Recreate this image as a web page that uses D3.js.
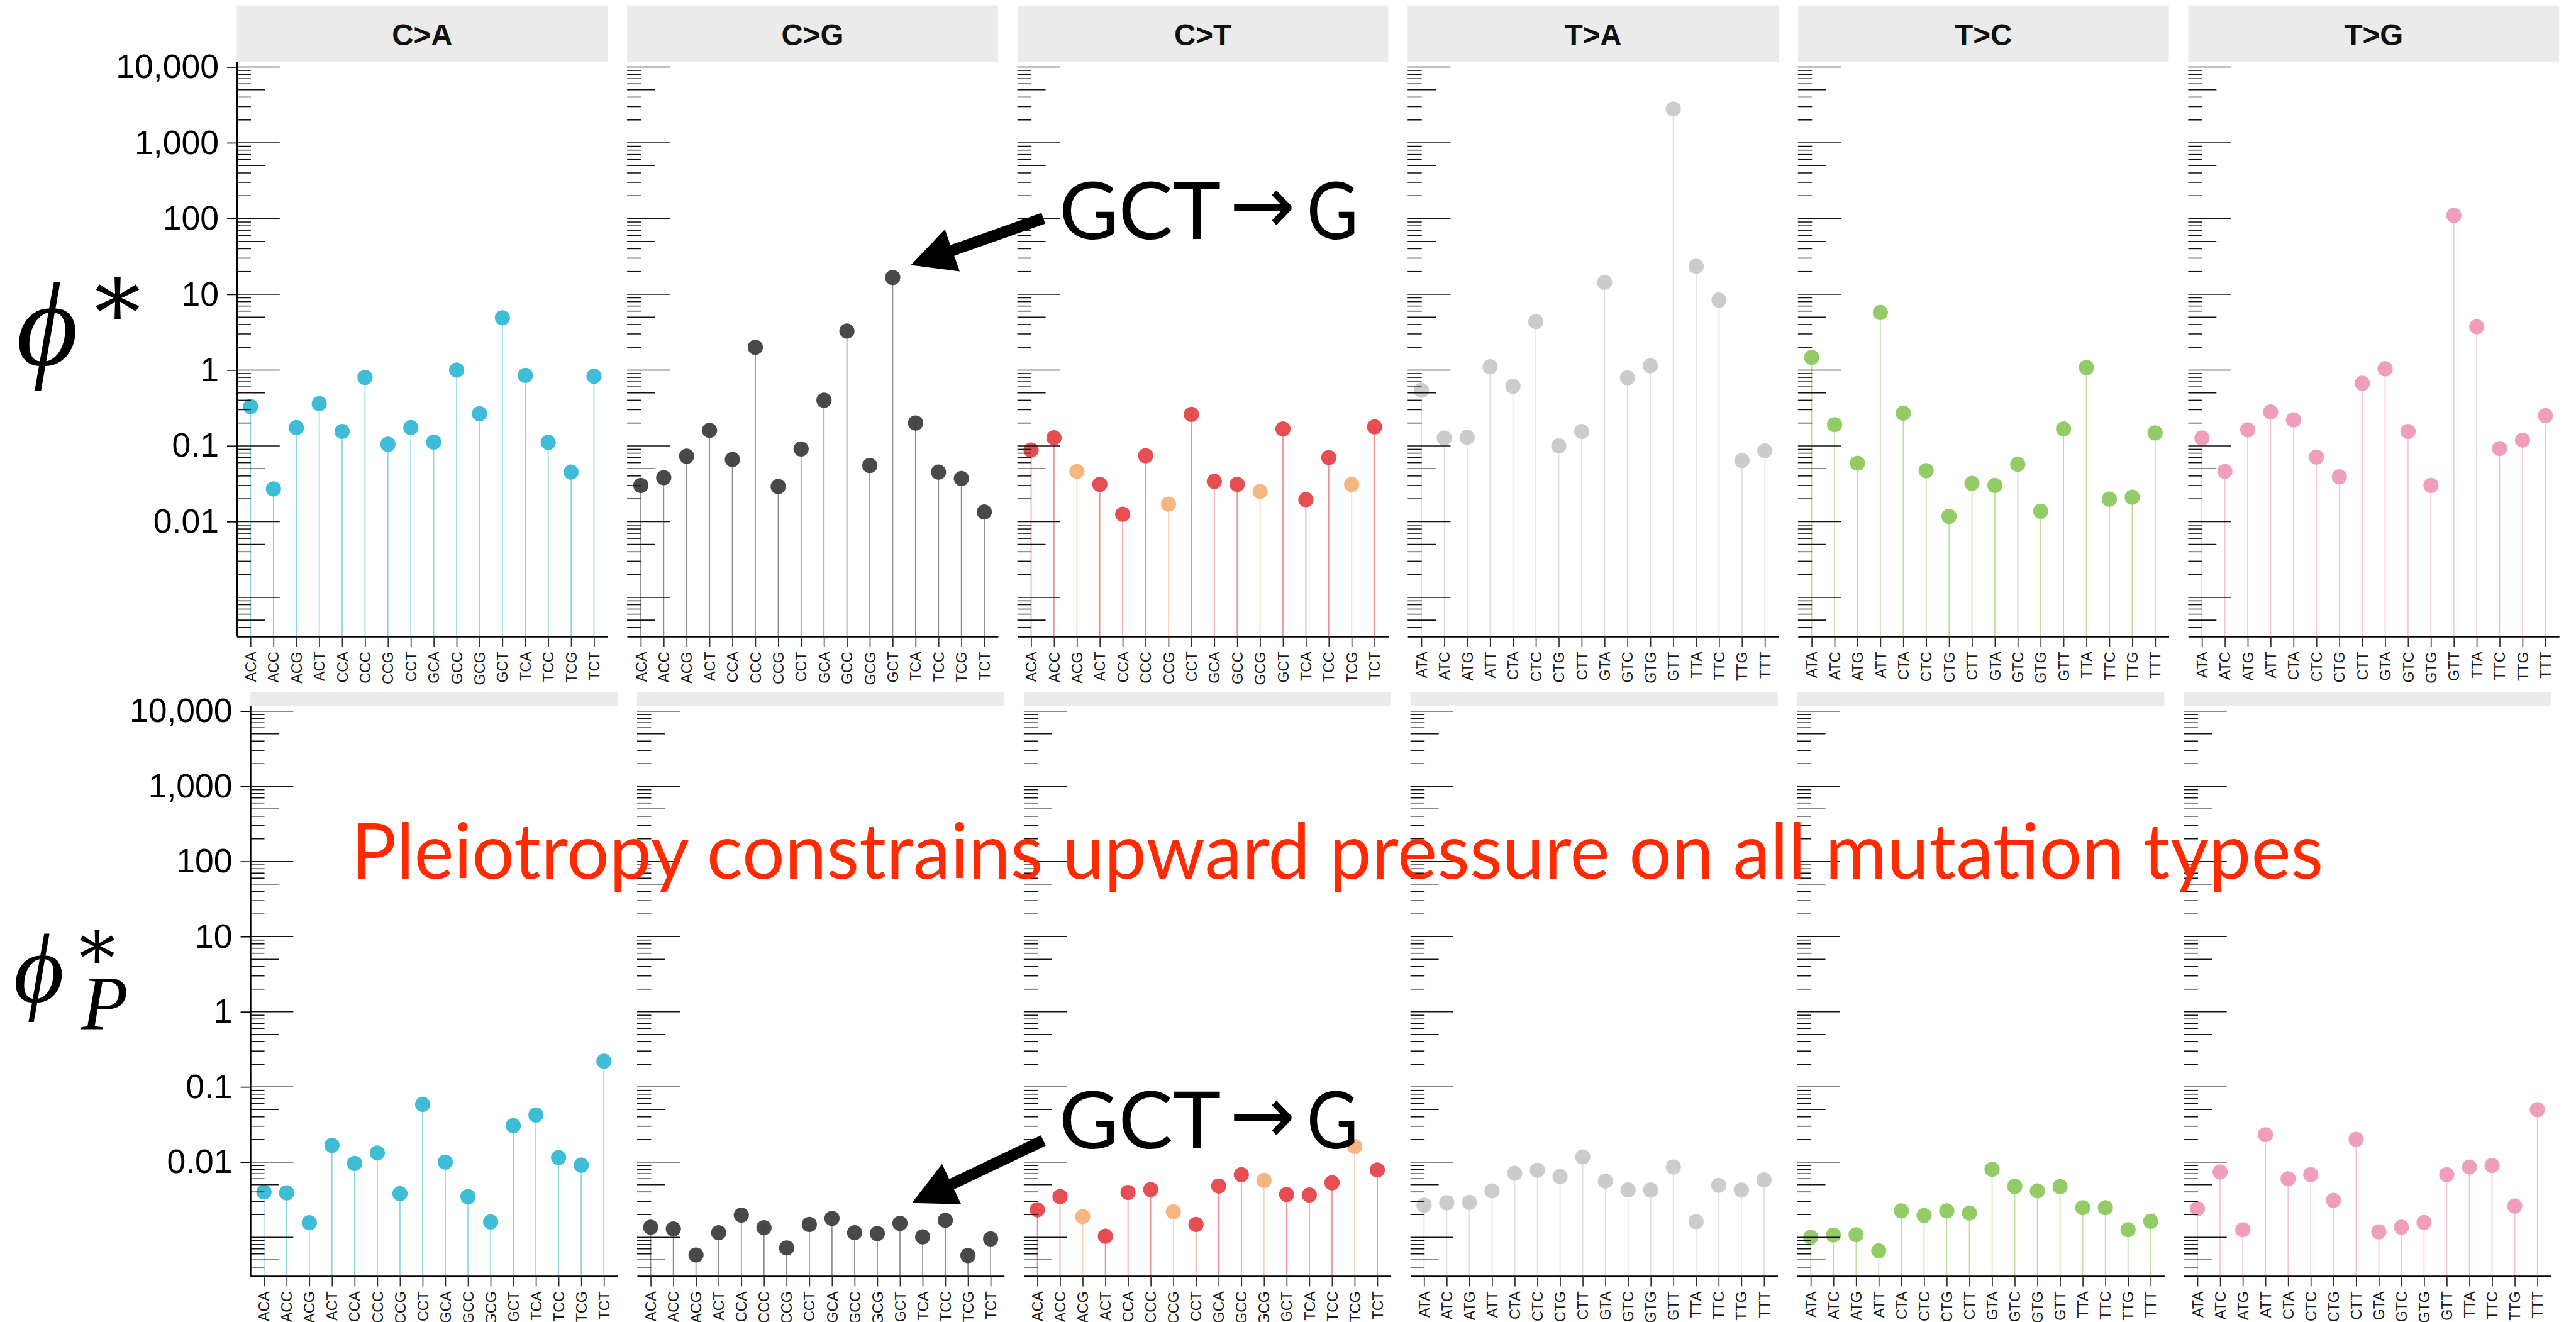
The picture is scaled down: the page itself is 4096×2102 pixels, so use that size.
<!DOCTYPE html>
<html>
<head>
<meta charset="utf-8">
<script src="https://cdn.jsdelivr.net/npm/d3@7"></script>
<style>
  html, body { margin: 0; padding: 0; background: #fff; }
  svg { display: block; }
</style>
</head>
<body>
<svg id="chart"></svg>
<script>
const mutationTypes = ["C>A", "C>G", "C>T", "T>A", "T>C", "T>G"];
const contextsC = ["ACA", "ACC", "ACG", "ACT", "CCA", "CCC", "CCG", "CCT", "GCA", "GCC", "GCG", "GCT", "TCA", "TCC", "TCG", "TCT"];
const contextsT = ["ATA", "ATC", "ATG", "ATT", "CTA", "CTC", "CTG", "CTT", "GTA", "GTC", "GTG", "GTT", "TTA", "TTC", "TTG", "TTT"];
const cpgContexts = ["ACG", "CCG", "GCG", "TCG"];
const yTickValues = [0.01, 0.1, 1, 10, 100, 1000, 10000];

// phi* (top row)
const phiStarCA = [0.33, 0.027, 0.174, 0.36, 0.155, 0.80, 0.105, 0.174, 0.112, 1.0, 0.265, 4.9, 0.85, 0.111, 0.045, 0.83];
const phiStarCG = [0.030, 0.038, 0.073, 0.16, 0.066, 2.0, 0.029, 0.091, 0.40, 3.27, 0.055, 16.7, 0.20, 0.045, 0.037, 0.0134];
const phiStarCT = [0.088, 0.128, 0.046, 0.031, 0.0125, 0.074, 0.017, 0.26, 0.034, 0.031, 0.025, 0.167, 0.0195, 0.070, 0.031, 0.178];
const phiStarTA = [0.54, 0.127, 0.13, 1.11, 0.61, 4.37, 0.10, 0.155, 14.4, 0.79, 1.14, 2790, 23.5, 8.4, 0.064, 0.086];
const phiStarTC = [1.47, 0.19, 0.059, 5.75, 0.27, 0.047, 0.0117, 0.032, 0.030, 0.057, 0.0137, 0.167, 1.08, 0.0198, 0.021, 0.148];
const phiStarTG = [0.127, 0.046, 0.163, 0.28, 0.22, 0.071, 0.039, 0.67, 1.04, 0.155, 0.030, 110, 3.73, 0.092, 0.119, 0.25];

// phi*_P (bottom row)
const phiPCA = [0.0040, 0.0039, 0.00156, 0.0167, 0.0096, 0.0132, 0.0038, 0.0586, 0.0100, 0.00347, 0.0016, 0.0305, 0.0423, 0.0115, 0.0091, 0.22];
const phiPCG = [0.00136, 0.00129, 0.00058, 0.00115, 0.00197, 0.00134, 0.00072, 0.00148, 0.00178, 0.00115, 0.00112, 0.00153, 0.00101, 0.00168, 0.00057, 0.00095];
const phiPCT = [0.00232, 0.00347, 0.00188, 0.00103, 0.00394, 0.0043, 0.00218, 0.00148, 0.0048, 0.0068, 0.0057, 0.0037, 0.00365, 0.0053, 0.0161, 0.00785];
const phiPTA = [0.00267, 0.00288, 0.00291, 0.00414, 0.0071, 0.0078, 0.0064, 0.0117, 0.0056, 0.00425, 0.00425, 0.0086, 0.00161, 0.0049, 0.00425, 0.0058];
const phiPTC = [0.0010, 0.00107, 0.00108, 0.00066, 0.00224, 0.00195, 0.00224, 0.0021, 0.0080, 0.00475, 0.00414, 0.0047, 0.00247, 0.00247, 0.00126, 0.00163];
const phiPTG = [0.0024, 0.0074, 0.00126, 0.0231, 0.0060, 0.0068, 0.0031, 0.0201, 0.00118, 0.00136, 0.00157, 0.0068, 0.0086, 0.0090, 0.0026, 0.0498];

const typeColors = ["#35b8d4", "#3f3f3f", "#e5444b", "#c9c9c9", "#8dc95e", "#ee9ab6"];
const cpgColor = "#f4b27b";

const sansFont = "'Liberation Sans', Arial, Helvetica, sans-serif";
const noteFont = "Lato, 'Open Sans', 'DejaVu Sans', sans-serif";
const mathFont = "'DejaVu Serif', 'Liberation Serif', serif";
const phiFont = "'Liberation Serif', 'DejaVu Serif', serif";

const W = 4743, H = 2434;
const svg = d3.select("#chart")
  .attr("width", 4096)
  .attr("height", 2102)
  .attr("viewBox", [0, 0, W, H])
  .style("font-family", sansFont);

const rows = [
  { series: [phiStarCA, phiStarCG, phiStarCT, phiStarTA, phiStarTC, phiStarTG],
    stripY: 10, stripH: 104, top: 114, bottom: 1172, left: 436, step: 718.6, width: 683, stripText: true },
  { series: [phiPCA, phiPCG, phiPCT, phiPTA, phiPTC, phiPTG],
    stripY: 1274, stripH: 26, top: 1300, bottom: 2349.5, left: 461, step: 712, width: 676, stripText: false }
];

const yDomain = [Math.pow(10, -3.517), Math.pow(10, 4.067)];

// log tick positions (1..9 x 10^k), drawn like annotation_logticks
const logTicks = [];
for (let k = -4; k <= 4; k++) {
  for (let m = 1; m <= 9; m++) {
    const v = m * Math.pow(10, k);
    if (v >= yDomain[0] && v <= yDomain[1]) logTicks.push({ v, len: m === 1 ? 79 : m === 5 ? 52 : 26 });
  }
}

rows.forEach(row => {
  const y = d3.scaleLog().domain(yDomain).range([row.bottom, row.top]);

  mutationTypes.forEach((type, i) => {
    const contexts = type[0] === "C" ? contextsC : contextsT;
    const x = d3.scalePoint().domain(contexts).range([0, row.width]).padding(0.6);
    const data = contexts.map((c, j) => ({ context: c, value: row.series[i][j] }));
    const color = d => type === "C>T" && cpgContexts.includes(d.context) ? cpgColor : typeColors[i];

    const g = svg.append("g").attr("transform", `translate(${row.left + i * row.step},0)`);

    g.append("rect")
      .attr("x", 0).attr("y", row.stripY)
      .attr("width", row.width).attr("height", row.stripH)
      .attr("fill", "#ebebeb");

    if (row.stripText) {
      g.append("text")
        .attr("x", row.width / 2).attr("y", 83)
        .attr("text-anchor", "middle")
        .attr("font-weight", "bold")
        .attr("font-size", 55)
        .attr("fill", "#111")
        .text(type);
    }

    g.selectAll("line.stem")
      .data(data)
      .join("line")
      .attr("class", "stem")
      .attr("x1", d => x(d.context)).attr("x2", d => x(d.context))
      .attr("y1", row.bottom).attr("y2", d => y(d.value))
      .attr("stroke", color)
      .attr("stroke-opacity", 0.6)
      .attr("stroke-width", 2);

    g.selectAll("circle.pt")
      .data(data)
      .join("circle")
      .attr("class", "pt")
      .attr("cx", d => x(d.context))
      .attr("cy", d => y(d.value))
      .attr("r", 14)
      .attr("fill", color)
      .attr("fill-opacity", 0.95);

    g.selectAll("line.logtick")
      .data(logTicks)
      .join("line")
      .attr("class", "logtick")
      .attr("x1", 0).attr("x2", d => d.len)
      .attr("y1", d => y(d.v)).attr("y2", d => y(d.v))
      .attr("stroke", "#111")
      .attr("stroke-width", 1.8);

    const xAxis = g.append("g")
      .attr("transform", `translate(0,${row.bottom})`)
      .call(d3.axisBottom(x).tickSize(19).tickSizeOuter(0));
    xAxis.select(".domain").attr("stroke", "#000").attr("stroke-width", 3);
    xAxis.selectAll(".tick line").attr("stroke", "#333").attr("stroke-width", 2);
    xAxis.selectAll(".tick text")
      .attr("transform", "rotate(-90)")
      .attr("text-anchor", "end")
      .attr("x", -28).attr("y", 0).attr("dy", "0.35em")
      .attr("font-size", 27)
      .attr("font-family", sansFont)
      .attr("fill", "#1a1a1a");

    if (i === 0) {
      const yAxis = g.append("g")
        .call(d3.axisLeft(y).tickValues(yTickValues).tickFormat(d3.format(",")).tickSize(18).tickSizeOuter(0).tickPadding(15));
      yAxis.select(".domain").attr("stroke", "#000").attr("stroke-width", 2.7);
      yAxis.selectAll(".tick line").attr("stroke", "#000").attr("stroke-width", 2);
      yAxis.selectAll(".tick text")
        .attr("font-size", 62)
        .attr("font-family", sansFont)
        .attr("fill", "#000");
    }
  });
});

// thick annotation arrows
function arrowPath(sx, sy, tx, ty, shaft, headLen, headW) {
  const dx = tx - sx, dy = ty - sy, l = Math.hypot(dx, dy);
  const ux = dx / l, uy = dy / l, nx = -uy, ny = ux;
  const bx = tx - ux * headLen, by = ty - uy * headLen;
  const p = [
    [sx + nx * shaft / 2, sy + ny * shaft / 2],
    [bx + nx * shaft / 2, by + ny * shaft / 2],
    [bx + nx * headW / 2, by + ny * headW / 2],
    [tx, ty],
    [bx - nx * headW / 2, by - ny * headW / 2],
    [bx - nx * shaft / 2, by - ny * shaft / 2],
    [sx - nx * shaft / 2, sy - ny * shaft / 2]
  ];
  return "M" + p.map(q => q.join(",")).join("L") + "Z";
}

const notes = [
  { sx: 1921, sy: 402, tx: 1677, ty: 488, textY: 440 },
  { sx: 1921, sy: 2100, tx: 1679, ty: 2215, textY: 2115 }
];

notes.forEach(n => {
  svg.append("path")
    .attr("d", arrowPath(n.sx, n.sy, n.tx, n.ty, 21, 81, 82))
    .attr("fill", "#000");
  svg.append("text")
    .attr("x", 1950).attr("y", n.textY)
    .style("font-family", noteFont)
    .attr("font-size", 145)
    .attr("textLength", 298)
    .attr("lengthAdjust", "spacingAndGlyphs")
    .text("GCT");
  svg.append("text")
    .attr("x", 2264).attr("y", n.textY - 10)
    .style("font-family", "'DejaVu Sans', sans-serif")
    .attr("font-size", 150)
    .attr("textLength", 121)
    .attr("lengthAdjust", "spacingAndGlyphs")
    .text("\u2192");
  svg.append("text")
    .attr("x", 2406).attr("y", n.textY)
    .style("font-family", noteFont)
    .attr("font-size", 145)
    .attr("textLength", 95)
    .attr("lengthAdjust", "spacingAndGlyphs")
    .text("G");
});

svg.append("text")
  .attr("x", 647).attr("y", 1618)
  .style("font-family", noteFont)
  .attr("font-size", 141)
  .attr("fill", "#ff2a00")
  .attr("textLength", 3631)
  .attr("lengthAdjust", "spacingAndGlyphs")
  .text("Pleiotropy constrains upward pressure on all mutation types");

// y labels: phi* and phi*_P
svg.append("text")
  .attr("x", 30).attr("y", 672)
  .style("font-family", phiFont).style("font-style", "italic")
  .attr("font-size", 220)
  .text("\u03D5");
svg.append("text")
  .attr("x", 174).attr("y", 636)
  .style("font-family", mathFont)
  .attr("font-size", 170)
  .text("*");

svg.append("text")
  .attr("x", 25).attr("y", 1843)
  .style("font-family", phiFont).style("font-style", "italic")
  .attr("font-size", 180)
  .text("\u03D5");
svg.append("text")
  .attr("x", 145).attr("y", 1811)
  .style("font-family", mathFont)
  .attr("font-size", 135)
  .text("*");
svg.append("text")
  .attr("x", 150).attr("y", 1895)
  .style("font-family", "'Liberation Serif', serif").style("font-style", "italic")
  .attr("font-size", 141)
  .text("P");
</script>
</body>
</html>
